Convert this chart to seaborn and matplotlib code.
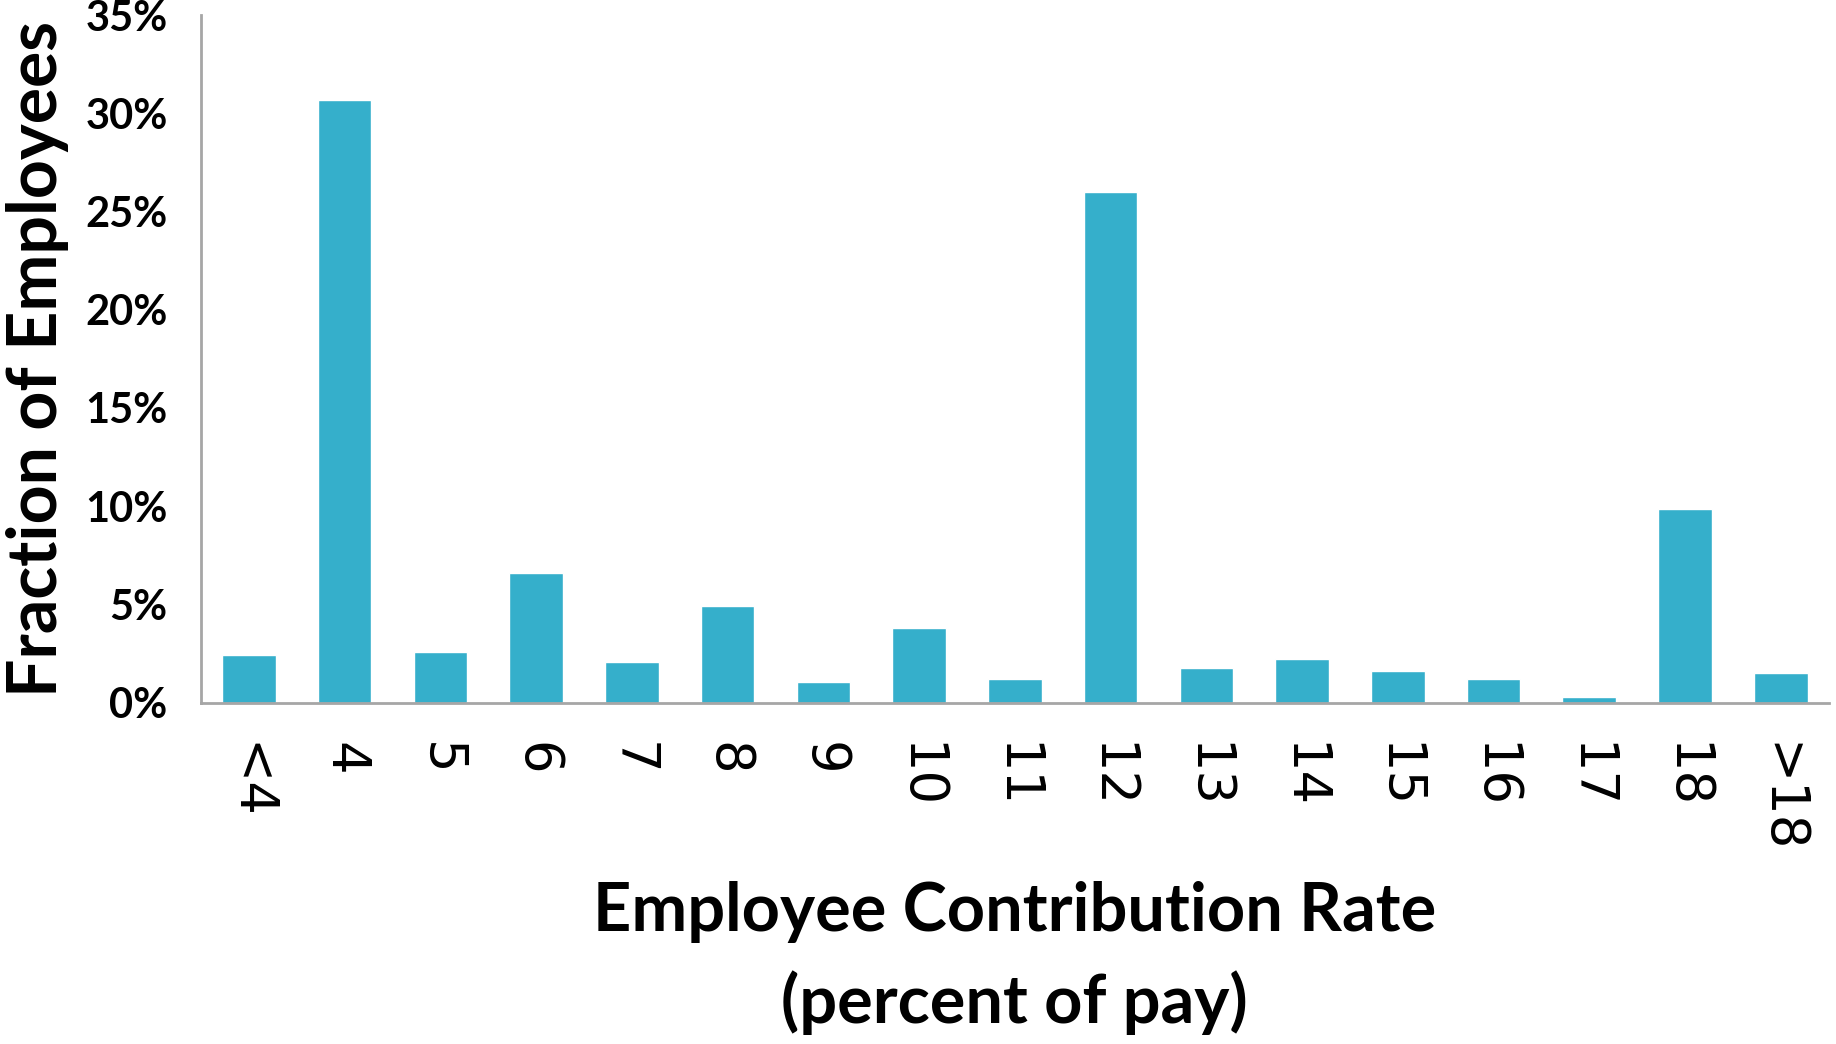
import matplotlib
matplotlib.use("Agg")
import matplotlib.pyplot as plt
import pandas as pd
import seaborn as sns
from matplotlib.ticker import PercentFormatter

# Data
rates = ["<4", "4", "5", "6", "7", "8", "9", "10", "11", "12",
         "13", "14", "15", "16", "17", "18", ">18"]
fraction_pct = [2.4, 30.7, 2.6, 6.6, 2.05, 4.9, 1.05, 3.8, 1.2, 26.0,
                1.75, 2.2, 1.6, 1.2, 0.3, 9.85, 1.5]
y_ticks = [0, 5, 10, 15, 20, 25, 30, 35]

BAR_COLOR = "#35AFCB"
AXIS_GRAY = "#A6A6A6"

sns.set_style("white")
plt.rcParams["font.family"] = ["Lato", "DejaVu Sans"]
plt.rcParams["text.color"] = "black"
plt.rcParams["axes.labelcolor"] = "black"
plt.rcParams["xtick.labelcolor"] = "black"
plt.rcParams["ytick.labelcolor"] = "black"

df = pd.DataFrame({"rate": rates, "fraction": fraction_pct})

fig = plt.figure(figsize=(18.36, 10.44), dpi=100)
ax = fig.add_axes([0.1095, 0.327, 0.8865, 0.6586])

sns.barplot(data=df, x="rate", y="fraction", color=BAR_COLOR,
            saturation=1, width=0.56, errorbar=None, ax=ax)

ax.set_xlim(-0.5, len(rates) - 0.5)
ax.set_ylim(0, 35)
ax.set_yticks(y_ticks)
ax.yaxis.set_major_formatter(PercentFormatter(decimals=0))

for side in ["top", "right"]:
    ax.spines[side].set_visible(False)
for side in ["left", "bottom"]:
    ax.spines[side].set_color(AXIS_GRAY)
    ax.spines[side].set_linewidth(2)

ax.tick_params(axis="y", which="major", direction="out", length=14,
               width=2, color=AXIS_GRAY, pad=10, labelsize=30)
ax.tick_params(axis="x", length=0, pad=28, labelsize=38)
for lbl in ax.get_yticklabels():
    lbl.set_fontweight("bold")
for lbl in ax.get_xticklabels():
    lbl.set_family(["DejaVu Sans"])
    lbl.set_rotation(-90)
    lbl.set_va("top")
    lbl.set_ha("center")

ax.set_ylabel("Fraction of Employees", fontsize=49, fontweight="bold",
              labelpad=12)
ax.set_xlabel("Employee Contribution Rate\n(percent of pay)", fontsize=48,
              fontweight="bold", labelpad=20, linespacing=1.52)

fig.savefig("out.png", dpi=100)
